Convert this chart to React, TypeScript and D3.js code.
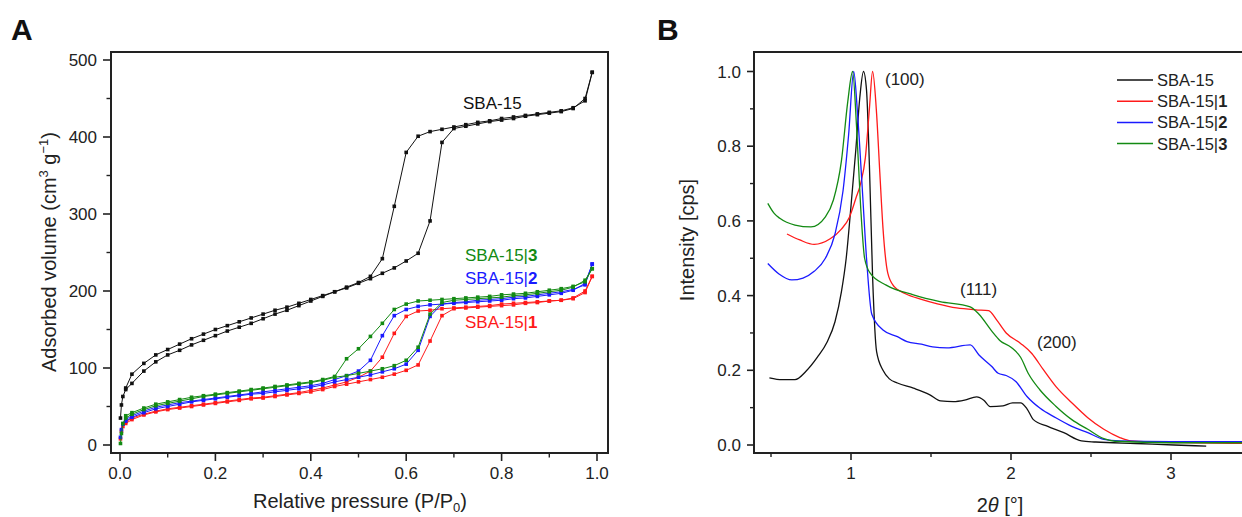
import React from "react";
import * as d3 from "d3";

// ---- panel A: N2 isotherms, relative pressure grids ----
const P_ADS = [0.001, 0.003, 0.006, 0.012, 0.025, 0.05, 0.075, 0.1, 0.125, 0.15, 0.175, 0.2, 0.225, 0.25, 0.275, 0.3, 0.325, 0.35, 0.375, 0.4, 0.425, 0.45, 0.475, 0.5, 0.525, 0.55, 0.575, 0.6, 0.625, 0.65, 0.675, 0.7, 0.725, 0.75, 0.775, 0.8, 0.825, 0.85, 0.875, 0.9, 0.925, 0.95, 0.975, 0.99];
const P_DES = [0.99, 0.975, 0.95, 0.925, 0.9, 0.875, 0.85, 0.825, 0.8, 0.775, 0.75, 0.725, 0.7, 0.675, 0.65, 0.625, 0.6, 0.575, 0.55, 0.525, 0.5, 0.475, 0.45, 0.425, 0.4, 0.375, 0.35, 0.325, 0.3, 0.275, 0.25, 0.225, 0.2, 0.175, 0.15, 0.125, 0.1, 0.075, 0.05, 0.025, 0.012];

const SBA15_ADS = [35, 52, 63, 72, 80, 96, 108, 117, 123, 130, 136, 142, 148, 153, 158, 164, 170, 175, 181, 187, 193, 199, 204, 210, 216, 223, 230, 239, 249, 291, 393, 411, 414, 417, 420, 422, 424, 427, 429, 431, 433, 437, 450, 484];
const SBA15_DES = [484, 447, 438, 434, 432, 430, 428, 426, 424, 421, 419, 416, 413, 410, 407, 401, 380, 310, 242, 219, 211, 205, 199, 194, 189, 184, 179, 175, 170, 165, 160, 155, 150, 144, 138, 131, 124, 117, 106, 92, 74];

const S1_ADS = [8, 18, 24, 28, 33, 39, 43, 46, 48, 50, 52, 54, 56, 58, 60, 61, 63, 65, 67, 69, 72, 76, 79, 82, 85, 88, 92, 97, 104, 135, 168, 177, 178, 179, 180, 181, 182, 184, 185, 187, 188, 191, 200, 219];
const S1_DES = [219, 198, 190, 188, 187, 186, 185, 184, 183, 181, 180, 179, 178, 177, 175, 174, 167, 145, 114, 96, 88, 82, 78, 74, 71, 68, 66, 64, 62, 61, 59, 57, 55, 53, 51, 49, 47, 44, 40, 35, 30];

const S2_ADS = [10, 20, 27, 31, 36, 42, 47, 50, 53, 56, 58, 60, 62, 64, 66, 67, 69, 71, 73, 75, 78, 82, 85, 88, 91, 95, 99, 105, 123, 167, 183, 184, 185, 186, 187, 188, 190, 191, 193, 195, 197, 201, 210, 235];
const S2_DES = [235, 208, 202, 199, 197, 195, 193, 192, 190, 189, 188, 186, 185, 183, 182, 180, 176, 168, 142, 110, 96, 90, 85, 80, 77, 75, 73, 71, 69, 67, 65, 63, 61, 59, 57, 55, 52, 49, 44, 38, 33];

const S3_ADS = [2, 15, 28, 35, 40, 46, 51, 54, 57, 60, 63, 65, 67, 69, 71, 73, 75, 77, 79, 81, 84, 88, 90, 93, 96, 99, 103, 110, 127, 170, 185, 188, 189, 190, 191, 192, 194, 195, 197, 199, 201, 205, 214, 229];
const S3_DES = [229, 212, 206, 203, 201, 199, 197, 196, 195, 193, 192, 191, 190, 189, 188, 187, 183, 176, 158, 141, 125, 112, 89, 85, 82, 80, 78, 76, 74, 72, 70, 68, 66, 64, 62, 59, 56, 53, 48, 42, 38];

const A_X_TICKS = [0, 0.2, 0.4, 0.6, 0.8, 1.0];
const A_Y_TICKS = [0, 100, 200, 300, 400, 500];

// ---- panel B: low-angle XRD, [2theta, normalised intensity] ----
const XRD_SBA15 = [[0.49, 0.18], [0.57, 0.175], [0.65, 0.175], [0.72, 0.198], [0.79, 0.235], [0.85, 0.275], [0.9, 0.33], [0.94, 0.41], [0.97, 0.5], [1.0, 0.64], [1.03, 0.79], [1.055, 0.93], [1.078, 1.0], [1.097, 0.95], [1.115, 0.75], [1.135, 0.45], [1.16, 0.25], [1.2, 0.2], [1.24, 0.177], [1.29, 0.166], [1.39, 0.152], [1.49, 0.135], [1.56, 0.118], [1.64, 0.116], [1.71, 0.12], [1.785, 0.129], [1.83, 0.12], [1.87, 0.103], [1.95, 0.105], [2.01, 0.113], [2.06, 0.113], [2.1, 0.097], [2.14, 0.068], [2.23, 0.05], [2.33, 0.033], [2.44, 0.011], [2.53, 0.008], [2.78, 0.004], [3.02, 0.0], [3.22, -0.003]];
const XRD_S1 = [[0.6, 0.565], [0.68, 0.549], [0.77, 0.537], [0.87, 0.552], [0.94, 0.578], [0.99, 0.61], [1.03, 0.66], [1.06, 0.7], [1.09, 0.77], [1.115, 0.9], [1.135, 1.0], [1.158, 0.9], [1.18, 0.73], [1.2, 0.58], [1.23, 0.46], [1.27, 0.424], [1.34, 0.405], [1.44, 0.39], [1.54, 0.378], [1.66, 0.367], [1.78, 0.362], [1.86, 0.36], [1.91, 0.335], [1.97, 0.3], [2.06, 0.272], [2.13, 0.245], [2.2, 0.203], [2.28, 0.157], [2.38, 0.113], [2.48, 0.073], [2.58, 0.042], [2.68, 0.02], [2.75, 0.011], [2.9, 0.008], [3.15, 0.006], [3.5, 0.004]];
const XRD_S2 = [[0.48, 0.486], [0.55, 0.458], [0.63, 0.442], [0.7, 0.447], [0.77, 0.465], [0.84, 0.5], [0.9, 0.565], [0.95, 0.68], [0.985, 0.83], [1.017, 1.0], [1.042, 0.88], [1.07, 0.69], [1.097, 0.5], [1.13, 0.35], [1.2, 0.308], [1.29, 0.29], [1.35, 0.277], [1.44, 0.27], [1.51, 0.263], [1.6, 0.26], [1.745, 0.268], [1.8, 0.241], [1.88, 0.21], [1.92, 0.192], [1.97, 0.186], [2.03, 0.17], [2.1, 0.13], [2.18, 0.099], [2.28, 0.073], [2.38, 0.05], [2.48, 0.033], [2.58, 0.015], [2.68, 0.011], [3.0, 0.009], [3.5, 0.009]];
const XRD_S3 = [[0.48, 0.647], [0.52, 0.62], [0.555, 0.607], [0.65, 0.589], [0.75, 0.584], [0.84, 0.611], [0.89, 0.656], [0.94, 0.76], [0.98, 0.92], [1.01, 1.0], [1.035, 0.85], [1.06, 0.64], [1.085, 0.5], [1.12, 0.46], [1.22, 0.428], [1.39, 0.402], [1.556, 0.384], [1.745, 0.37], [1.8, 0.35], [1.88, 0.305], [1.93, 0.28], [2.0, 0.262], [2.06, 0.235], [2.11, 0.19], [2.18, 0.148], [2.28, 0.104], [2.38, 0.068], [2.48, 0.042], [2.58, 0.017], [2.65, 0.01], [3.0, 0.006], [3.5, 0.006]];

const B_X_TICKS = [1, 2, 3];
const B_Y_TICKS = [0, 0.2, 0.4, 0.6, 0.8, 1.0];
const LEGEND = ["SBA-15", "SBA-15|1", "SBA-15|2", "SBA-15|3"];

const BLACK = "#111";
const RED = "#ff1a1a";
const BLUE = "#1a1aff";
const GREEN = "#138a13";
const FONT = "Liberation Sans, Arial, sans-serif";
const AXIS = "#222";

const xA = d3.scaleLinear().domain([0, 1]).range([120, 597]);
const yA = d3.scaleLinear().domain([0, 500]).range([445, 60]);
const xB = d3.scaleLinear().domain([1, 3]).range([851, 1171]);
const yB = d3.scaleLinear().domain([0, 1]).range([445, 71.5]);

const isoLine = d3
  .line<number[]>()
  .x((d) => xA(d[0]))
  .y((d) => yA(d[1]));
const xrdLine = d3
  .line<number[]>()
  .x((d) => xB(d[0]))
  .y((d) => yB(d[1]))
  .curve(d3.curveMonotoneX);

const zip = (ps: number[], vs: number[]) => ps.map((p, i) => [p, vs[i]]);

const isotherms = [
  { color: RED, ads: zip(P_ADS, S1_ADS), des: zip(P_DES, S1_DES) },
  { color: BLUE, ads: zip(P_ADS, S2_ADS), des: zip(P_DES, S2_DES) },
  { color: GREEN, ads: zip(P_ADS, S3_ADS), des: zip(P_DES, S3_DES) },
  { color: BLACK, ads: zip(P_ADS, SBA15_ADS), des: zip(P_DES, SBA15_DES) },
];

const xrdSeries = [
  { color: BLACK, data: XRD_SBA15 },
  { color: RED, data: XRD_S1 },
  { color: BLUE, data: XRD_S2 },
  { color: GREEN, data: XRD_S3 },
];
const legendColors = [BLACK, RED, BLUE, GREEN];

const SampleLabel = ({ text, x, y, color, size }: any) => {
  const bar = text.indexOf("|");
  return (
    <text x={x} y={y} fill={color} fontSize={size} fontFamily={FONT}>
      {bar < 0 ? (
        text
      ) : (
        <>
          <tspan>{text.slice(0, bar + 1)}</tspan>
          <tspan fontWeight="bold">{text.slice(bar + 1)}</tspan>
        </>
      )}
    </text>
  );
};

const App = () => {
  const aMinorX = d3.range(0.1, 1, 0.2);
  const aMinorY = d3.range(50, 500, 100);
  const bMinorX = [0.5, 1.5, 2.5, 3.5];
  const bMinorY = d3.range(0.1, 1, 0.2);

  return (
    <svg
      width={1242}
      height={517}
      style={{ position: "absolute", left: 0, top: 0, background: "#fff" }}
      fontFamily={FONT}
    >
      <defs>
        <clipPath id="clipB">
          <rect x={755} y={53} width={500} height={399} />
        </clipPath>
      </defs>

      {/* ---------- Panel A ---------- */}
      <text x={11} y={40} fontSize={30} fontWeight="bold" fill="#111">A</text>

      {isotherms.map((s, i) => (
        <g key={i} stroke={s.color} fill="none" strokeWidth={1}>
          <path d={isoLine(s.ads) || ""} />
          <path d={isoLine(s.des) || ""} />
          {s.ads.concat(s.des).map((d, j) => (
            <rect
              key={j}
              x={xA(d[0]) - 1.8}
              y={yA(d[1]) - 1.8}
              width={3.6}
              height={3.6}
              fill={s.color}
              stroke="none"
            />
          ))}
        </g>
      ))}

      <rect x={111} y={52} width={497} height={401} fill="none" stroke={AXIS} strokeWidth={2} />
      {A_X_TICKS.map((t) => (
        <g key={t}>
          <line x1={xA(t)} x2={xA(t)} y1={453} y2={461} stroke={AXIS} strokeWidth={1.6} />
          <text x={xA(t)} y={479} fontSize={17} textAnchor="middle" fill="#222">
            {t.toFixed(1)}
          </text>
        </g>
      ))}
      {aMinorX.map((t) => (
        <line key={t} x1={xA(t)} x2={xA(t)} y1={453} y2={457.5} stroke={AXIS} strokeWidth={1.4} />
      ))}
      {A_Y_TICKS.map((t) => (
        <g key={t}>
          <line x1={103} x2={111} y1={yA(t)} y2={yA(t)} stroke={AXIS} strokeWidth={1.6} />
          <text x={97} y={yA(t) + 6} fontSize={17} textAnchor="end" fill="#222">
            {t}
          </text>
        </g>
      ))}
      {aMinorY.map((t) => (
        <line key={t} x1={106.5} x2={111} y1={yA(t)} y2={yA(t)} stroke={AXIS} strokeWidth={1.4} />
      ))}

      <text x={360} y={508} fontSize={20} textAnchor="middle" fill="#222">
        Relative pressure (P/P
        <tspan dy={4} fontSize={13}>0</tspan>
        <tspan dy={-4}>)</tspan>
      </text>
      <text
        transform="translate(56,252) rotate(-90)"
        fontSize={20}
        textAnchor="middle"
        fill="#222"
      >
        Adsorbed volume (cm
        <tspan dy={-8} fontSize={13}>3</tspan>
        <tspan dy={8}> g</tspan>
        <tspan dy={-8} fontSize={13}>−1</tspan>
        <tspan dy={8}>)</tspan>
      </text>

      <SampleLabel text="SBA-15" x={463} y={109} color={BLACK} size={17} />
      <SampleLabel text="SBA-15|3" x={465} y={261} color={GREEN} size={17} />
      <SampleLabel text="SBA-15|2" x={465} y={284} color={BLUE} size={17} />
      <SampleLabel text="SBA-15|1" x={465} y={328} color={RED} size={17} />

      {/* ---------- Panel B ---------- */}
      <text x={657} y={40} fontSize={30} fontWeight="bold" fill="#111">B</text>

      <g clipPath="url(#clipB)">
        {xrdSeries.map((s, i) => (
          <path
            key={i}
            d={xrdLine(s.data as number[][]) || ""}
            fill="none"
            stroke={s.color}
            strokeWidth={1.3}
          />
        ))}
      </g>

      <line x1={754} x2={1250} y1={52} y2={52} stroke={AXIS} strokeWidth={2} />
      <line x1={754} x2={1250} y1={453} y2={453} stroke={AXIS} strokeWidth={2} />
      <line x1={754} x2={754} y1={51} y2={454} stroke={AXIS} strokeWidth={2} />

      {B_X_TICKS.map((t) => (
        <g key={t}>
          <line x1={xB(t)} x2={xB(t)} y1={453} y2={460} stroke={AXIS} strokeWidth={1.6} />
          <text x={xB(t)} y={479} fontSize={17} textAnchor="middle" fill="#222">
            {t}
          </text>
        </g>
      ))}
      {bMinorX.map((t) => (
        <line key={t} x1={xB(t)} x2={xB(t)} y1={453} y2={457} stroke={AXIS} strokeWidth={1.4} />
      ))}
      {B_Y_TICKS.map((t) => (
        <g key={t}>
          <line x1={747} x2={754} y1={yB(t)} y2={yB(t)} stroke={AXIS} strokeWidth={1.6} />
          <text x={741} y={yB(t) + 6} fontSize={17} textAnchor="end" fill="#222">
            {t.toFixed(1)}
          </text>
        </g>
      ))}
      {bMinorY.map((t) => (
        <line key={t} x1={750} x2={754} y1={yB(t)} y2={yB(t)} stroke={AXIS} strokeWidth={1.4} />
      ))}

      <text x={1000} y={512} fontSize={20} textAnchor="middle" fill="#222">
        2<tspan fontStyle="italic">θ</tspan> [°]
      </text>
      <text
        transform="translate(694,240) rotate(-90)"
        fontSize={20}
        textAnchor="middle"
        fill="#222"
      >
        Intensity [cps]
      </text>

      <text x={885} y={85} fontSize={17} fill="#222">(100)</text>
      <text x={960} y={295} fontSize={17} fill="#222">(111)</text>
      <text x={1037} y={348} fontSize={17} fill="#222">(200)</text>

      {LEGEND.map((name, i) => {
        const y = 80 + i * 21.2;
        return (
          <g key={name}>
            <line x1={1117} x2={1153} y1={y} y2={y} stroke={legendColors[i]} strokeWidth={1.5} />
            <SampleLabel text={name} x={1157} y={y + 6} color="#222" size={16.5} />
          </g>
        );
      })}
    </svg>
  );
};

export default App;
